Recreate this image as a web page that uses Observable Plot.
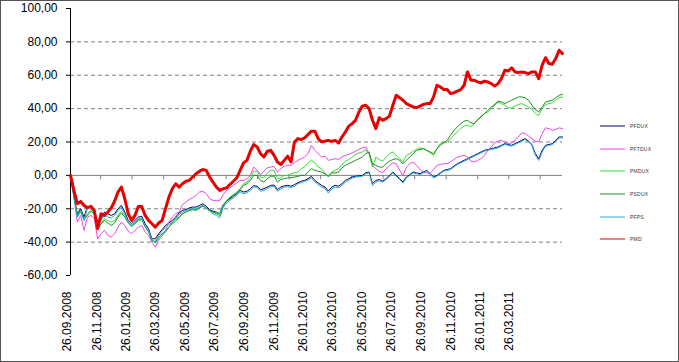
<!DOCTYPE html>
<html>
<head>
<meta charset="utf-8">
<script src="https://cdn.jsdelivr.net/npm/d3@7"></script>
<script src="https://cdn.jsdelivr.net/npm/@observablehq/plot@0.6"></script>
<style>
  html, body { margin: 0; padding: 0; background: #fff; }
  #wrap { position: relative; width: 679px; height: 362px; overflow: hidden; font-family: "Liberation Sans", Arial, sans-serif; }
  #border { position: absolute; left: 0; top: 0; width: 679px; height: 362px; box-sizing: border-box; border: 1px solid #555; pointer-events: none; }
  #legend { position: absolute; left: 600px; top: 115px; }
  .row { display: flex; align-items: center; height: 22.6px; }
  .row svg { display: block; }
  .row span { font-size: 5px; color: #333; margin-left: 4px; letter-spacing: 0.2px; }
</style>
</head>
<body>
<div id="wrap"><div id="chart"></div><div id="legend"></div><div id="border"></div></div>
<script>
// Weekly observations starting 26.09.2008 (146 weeks)
const startDate = "2008-09-26";
const weekCount = 146;

const seriesNames = ["PFDUX", "PFTDUX", "PMDUX", "PSDUX", "PFPS", "PMD"];
const seriesColors = ["#000066", "#ee44ee", "#33dd33", "#1f8f1f", "#22aadd", "#e60000"];
const seriesWidths = [1, 1, 1, 1, 1, 3];

const PFDUX = [
  0,-12,-23,-20,-25,-18.5,-19,-21,-28,-26,
  -22,-23,-24,-23,-20,-18,-22,-27,-29,-27,
  -25,-24.5,-29,-32,-38,-38,-35,-32.5,-30,-28.5,
  -27,-25,-22.5,-21,-20.5,-19.5,-19,-19,-18,-17,
  -18.5,-20.5,-21.5,-22,-23,-17.5,-15.5,-14,-12.5,-11,
  -9,-10,-9.5,-8,-6.2,-6.5,-8.5,-8,-7,-6,
  -5.8,-8.5,-7,-6.3,-6,-6.5,-5.5,-4.5,-3.5,-3,
  -2,-0.6,-3,-4.5,-6,-7,-9.4,-7,-6,-6.5,
  -5,-3,-2,-1,-0.5,-0.3,0,1.5,2,-5,
  -3,-2.5,-3.5,-2,0,2,0,-2,-4,-1,
  0.5,2,1.5,1,2,3,1,-1,0,1.5,
  3,3.5,4,5.5,7,8,9,10,11,12,
  13,14,15,15.5,16,16.5,17,18,19,18.5,
  18,19,20,21,22,20.5,18.5,13,10,15,
  18,18.5,19,21,23,23
];
const PFTDUX = [
  0,-13,-28,-24,-33,-25,-24,-26,-38,-35,
  -33,-36,-37,-35,-31,-28,-30,-33.5,-35,-33,
  -31,-30,-34,-36,-40,-43,-39,-36,-33,-28,
  -25,-23,-22,-17.5,-16,-14.5,-13.5,-12,-10,-9.5,
  -11,-14,-15,-15,-15,-11.5,-9,-7.5,-6,-4.5,
  -3,-3,-2,0,5,3,0.5,2.5,4.5,5,
  5.4,2,4,5.5,6,6,7.5,9,10,11,
  13,18,15,13,11,11.5,9,9.5,10,9.6,
  11,12,12.5,13.5,14.5,15.5,16.5,17,13,6,
  4,2.5,1.5,4,6,7.5,7,3,0,5,
  7,8,6,3.5,2,1.5,1,3.5,6,6.5,
  7,7,8,9.5,11,11.5,12,11,8.5,8,
  9,10,12,15,17,19.5,20.5,21,20,19,
  19.5,21,23,25.5,25,23.5,22,20.5,20,25,
  28.5,28,27,27.5,28.5,28
];
const PMDUX = [
  0,-12,-25,-22,-27,-23,-21,-23,-31,-29,
  -26,-27,-28,-27,-24,-21.5,-24,-28,-30,-28.5,
  -26.5,-26,-30.5,-33,-38.5,-40.5,-38,-36,-34,-31,
  -29,-27.5,-25.5,-23,-22,-21,-20.5,-20.5,-19,-18,
  -19.5,-21,-22,-22.5,-23,-18,-15,-13,-11.5,-10,
  -8,-5,-4,-1.5,2.5,2.5,-1,-1.5,1.5,3,
  3,-2,-1.5,0,0,1,1.5,2,4,5,
  7.5,9,7.5,5,4,1.5,-1,2,3,4,
  6.5,8.5,9.5,11,12.5,13.5,14,15.5,13,5,
  11,9.5,8.5,11,13,14,12,10,8,12,
  13,14.5,15.5,16.5,16,15,13.5,12,16,19,
  19.5,20,22,24,26,28,29.5,30,29,31,
  33,35.5,37,38,40,42,44,43,42,40.5,
  40.5,41.5,42.5,43,42,41,39.5,37,36,40,
  42.5,43,43.5,45,46.5,47
];
const PSDUX = [
  0,-12,-24,-21,-26,-24,-21.5,-23,-32,-29,
  -27,-28.5,-30,-28.5,-25,-22.5,-25,-28.5,-30.5,-29,
  -27,-26.5,-31,-34,-39,-40,-37,-35,-33.5,-31,
  -28.5,-26.5,-25,-23,-22,-21,-20.5,-21,-19.5,-18.5,
  -19.5,-21,-22,-23,-24,-18.5,-15.5,-13.5,-12,-10.5,
  -8.5,-6,-5,-3,0,0,-3,-4,-2,-0.5,
  -0.5,-4,-2.5,-2,-1.5,-1.4,-1,-0.6,0,0,
  2,4,3,2.5,2,1,-0.5,1.5,1.5,2,
  4.5,6,7,8,9,10,11,13,14,7,
  6,5,5,7,8.5,9.5,10,9,7,9,
  11,13,15,15.5,16,15,14,13,16,18,
  19.5,21,24,27,29,31,32.5,33,31.5,31,
  33.5,35,37,39,41,42.5,44.5,44,43,44,
  45,46,47,47,46.5,45,42,39.5,38,41,
  44,44.5,45,46.5,48,48.6
];
const PFPS = [
  0,-13,-25,-21,-27,-19,-20,-22,-30,-27,
  -24,-25,-25.5,-24,-21,-19,-23,-28,-30.5,-28,
  -26,-25.5,-30.5,-33.5,-39.5,-39.5,-36,-33.5,-31,-29.5,
  -28,-26,-23.5,-22,-21,-20.5,-20,-20,-19,-18,
  -19.5,-21.5,-23,-24,-25.5,-19,-16.5,-15,-13.5,-12,
  -10,-11,-10.5,-9,-7,-7.2,-9.5,-9,-8,-7,
  -6.5,-9.5,-8,-7,-6.8,-7.2,-6.5,-5,-4.2,-3.8,
  -2.8,-1.5,-3.8,-5.5,-7,-8,-10.6,-8,-7,-7.5,
  -6,-4,-3,-1.5,-1,-0.8,-0.5,1,1.5,-6,
  -4,-3.2,-4,-2.6,-0.5,1.5,-0.5,-2.5,-4.5,-1.5,
  0,1.5,1,0.5,1.5,2.5,0.5,-1.5,-0.5,1,
  2.5,3,3.5,5,6.5,7.5,8.5,9.5,10.5,11.5,
  12.5,13.5,14.5,15,15.5,16,16.5,17.5,18.5,18,
  17.5,18.5,19.5,20.5,21.5,20,18,12,9,14,
  17.5,18,18.5,20.5,22.5,22.5
];
const PMD = [
  0,-9,-17,-15.6,-18,-19.4,-18.5,-21,-32,-23,
  -24,-22,-19.5,-15.5,-10,-7,-14,-23,-27,-24,
  -18.6,-18.6,-24,-27,-29,-31,-28.5,-27,-20,-13,
  -8,-5,-7,-5,-3.5,-3,-1,1,2.5,3.5,
  3,-1,-4,-7,-9,-8,-7.5,-5.5,-3.5,-1.5,
  3,7.5,9,14.5,18.5,17,13,11,14.5,15,
  12,8,6.5,9,11.5,8,20,22,21.5,22.5,
  24.5,26.5,26.5,22,20,20.5,21,20.4,21,19.4,
  23,26,29.5,31,33,38,41.5,42,40,33,
  28,34.5,33,34,35.5,42,48,46.5,45,43,
  42,41,40.6,41.5,42.5,43,43,47,54,53,
  51.5,51.5,49,49.5,50.5,51.4,54,62,57,57,
  56,55.4,56.5,56,55,53.5,55,58,63,62.5,
  64.5,62,61.7,62,61.6,61,62,62,58,66,
  70.5,67,66.6,70,75,73
];

const xLabelDates = ["2008-09-26","2008-11-26","2009-01-26","2009-03-26","2009-05-26","2009-07-26",
  "2009-09-26","2009-11-26","2010-01-26","2010-03-26","2010-05-26","2010-07-26",
  "2010-09-26","2010-11-26","2011-01-26","2011-03-26"];
const zeroLineTicks = ["2008-11-27","2009-01-31","2009-04-06","2009-06-09","2009-08-13","2009-10-17",
  "2009-12-21","2010-02-24","2010-04-29","2010-07-03","2010-09-06","2010-11-10",
  "2011-01-14","2011-03-19","2011-05-23"];
const yTicks = [-60,-40,-20,0,20,40,60,80,100];
const gridValues = [-40,-20,20,40,60,80];

const t0 = new Date(startDate + "T00:00:00Z").getTime();
const dates = d3.range(weekCount).map(i => new Date(t0 + i * 7 * 864e5));
const allSeries = [PFDUX, PFTDUX, PMDUX, PSDUX, PFPS, PMD];
const fmtNum = d => d.toFixed(2).replace(".", ",");
const fmtDate = d3.utcFormat("%d.%m.%Y");
const toDate = s => new Date(s + "T00:00:00Z");

const lineMarks = allSeries.map((vals, k) =>
  Plot.line(vals, {x: (d, i) => dates[i], y: d => d, stroke: seriesColors[k],
    strokeWidth: seriesWidths[k], strokeLinejoin: "round", curve: "linear"}));

const chart = Plot.plot({
  width: 679,
  height: 362,
  marginLeft: 70,
  marginRight: 117,
  marginTop: 8,
  marginBottom: 87,
  style: {fontFamily: "'Liberation Sans', Arial, sans-serif", fontSize: "12px", color: "#000", background: "transparent"},
  x: {type: "utc", domain: [dates[0], dates[weekCount - 1]]},
  y: {domain: [-60, 100]},
  marks: [
    Plot.ruleY(gridValues, {stroke: "#808080", strokeDasharray: "4,3", strokeWidth: 1}),
    Plot.ruleY([0], {stroke: "#808080", strokeWidth: 1}),
    Plot.ruleX(zeroLineTicks.map(toDate), {x: d => d, y1: 0, y2: -2.6, stroke: "#808080"}),
    Plot.ruleX([dates[0]], {stroke: "#000", strokeWidth: 1}),
    Plot.axisY({ticks: yTicks, tickFormat: fmtNum, tickSize: 4, tickPadding: 9, fontSize: 12, stroke: "#000"}),
    Plot.axisX({ticks: xLabelDates.map(toDate), tickFormat: fmtDate, tickRotate: -90, tickSize: 0,
      tickPadding: 16, fontSize: 12, anchor: "bottom", dx: -3}),
    ...lineMarks
  ]
});
document.getElementById("chart").appendChild(chart);

const legend = document.getElementById("legend");
seriesNames.forEach((name, k) => {
  const row = document.createElement("div");
  row.className = "row";
  row.innerHTML = `<svg width="26" height="4"><line x1="0" x2="25" y1="2" y2="2" stroke="${seriesColors[k]}" stroke-width="1"/></svg><span>${name}</span>`;
  legend.appendChild(row);
});
</script>
</body>
</html>
